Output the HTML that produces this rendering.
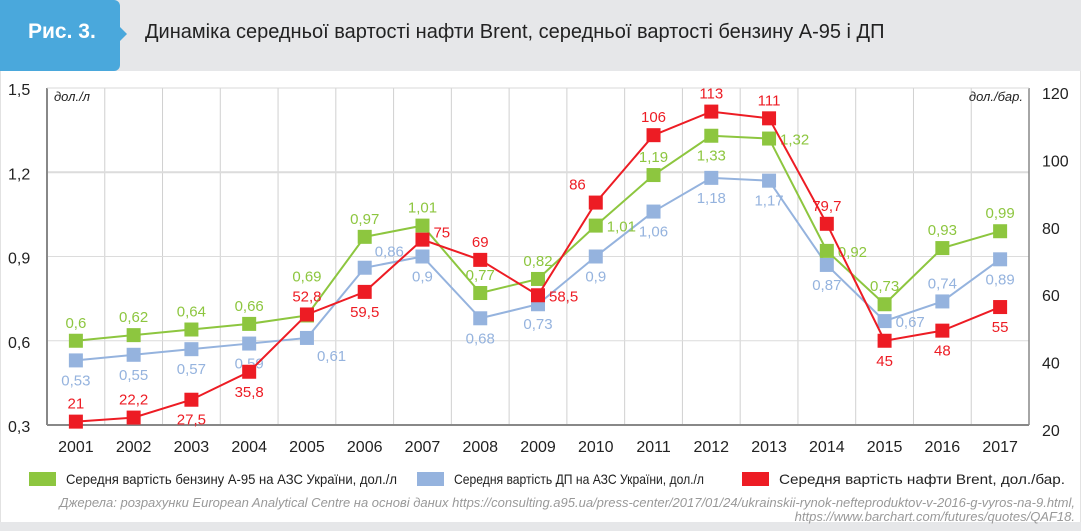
<!DOCTYPE html>
<html><head><meta charset="utf-8">
<style>
html,body{margin:0;padding:0;background:#fff;}
body{width:1081px;height:531px;position:relative;overflow:hidden;font-family:"Liberation Sans","DejaVu Sans",sans-serif;}
#hdr{position:absolute;left:0;top:0;width:1081px;height:71px;background:#e6e7e9;}
#tab{position:absolute;left:0;top:0;width:120px;height:71px;background:#4aa8dc;border-radius:0 6px 6px 0;}
#tab:after{content:"";position:absolute;right:-7px;top:27px;border-left:7px solid #4aa8dc;border-top:7px solid transparent;border-bottom:7px solid transparent;}
#tabtxt{position:absolute;left:28px;top:20px;color:#fff;font-weight:bold;font-size:21px;}
#title{position:absolute;left:145px;top:21px;font-size:20px;color:#222;}
#frame{position:absolute;left:0;top:71px;width:1079px;height:451px;border-left:1px solid #e2e2e2;border-right:1px solid #e2e2e2;}
#foot{position:absolute;left:0;top:522px;width:1081px;height:9px;background:#e6e7e9;}
svg{position:absolute;left:0;top:0;}
</style></head><body>
<div id="hdr"></div>
<div id="tab"><span id="tabtxt">Рис. 3.</span></div>
<div id="title">Динаміка середньої вартості нафти Brent, середньої вартості бензину А-95 і ДП</div>
<div id="frame"></div>
<div id="foot"></div>
<svg id="chart" width="1081" height="531"></svg>
<script>
const years=["2001","2002","2003","2004","2005","2006","2007","2008","2009","2010","2011","2012","2013","2014","2015","2016","2017"];
const a95=[0.6,0.62,0.64,0.66,0.69,0.97,1.01,0.77,0.82,1.01,1.19,1.33,1.32,0.92,0.73,0.93,0.99];
const dp=[0.53,0.55,0.57,0.59,0.61,0.86,0.9,0.68,0.73,0.9,1.06,1.18,1.17,0.87,0.67,0.74,0.89];
const brent=[21,22.2,27.5,35.8,52.8,59.5,75,69,58.5,86,106,113,111,79.7,45,48,55];
const leftTicks=[0.3,0.6,0.9,1.2,1.5];
const rightTicks=[20,40,60,80,100,120];
const a95Place=["t","t","t","t","tt","t","t","t","t","r","t","b","r","r","t","t","t"];
const dpPlace=["b","b","b","b","br","tr","b","b","b","b","b","b","b","b","r","t","b"];
const brentPlace=["t","t","b","b","t","b","r","t","r","tl","t","t","t","t","b","b","b"];

const NS="http://www.w3.org/2000/svg";
const svg=document.getElementById('chart');
const X0=47,X1=1029,Y0=88,Y1=425;
const step=(X1-X0)/years.length;
function xs(i){return X0+step*(i+0.5);}
function yl(v){return Y1-(v-0.3)/(1.5-0.3)*(Y1-Y0);}
function yr(v){return Y1-(v-20)/(120-20)*(Y1-Y0);}
function el(t,a){const e=document.createElementNS(NS,t);for(const k in a)e.setAttribute(k,a[k]);svg.appendChild(e);return e;}
function fmt(v){return String(v).replace('.',',');}

for(let i=1;i<years.length;i++){
  const g=el('line',{x1:X0+step*i,x2:X0+step*i,y1:Y0,y2:Y1,stroke:'#d0d0d0','stroke-width':1});
  
  
}
leftTicks.forEach(v=>{
  const y=yl(v);
  const g=el('line',{x1:X0,x2:X1,y1:y,y2:y,stroke:'#dcdcdc','stroke-width':v==1.2?2:1});
  
  
  const t=el('text',{x:8,y:y+7,'font-size':16,fill:'#222'});t.textContent=fmt(v);
  
  
});
rightTicks.forEach(v=>{
  const t=el('text',{x:1042,y:yr(v)+11,'font-size':16,fill:'#222'});t.textContent=v;
  
  
});
let ax=el('line',{x1:X0,x2:X0,y1:Y0,y2:Y1,stroke:'#888','stroke-width':2});


ax=el('line',{x1:X1,x2:X1,y1:Y0,y2:Y1,stroke:'#888','stroke-width':1.5});


ax=el('line',{x1:X0,x2:X1,y1:Y1,y2:Y1,stroke:'#888','stroke-width':2});


ax=el('line',{x1:X0,x2:X1,y1:Y0,y2:Y0,stroke:'#d8d8d8','stroke-width':1});


years.forEach((yv,i)=>{
  const t=el('text',{x:xs(i),y:452,'font-size':16,fill:'#222','text-anchor':'middle'});t.textContent=yv;
  
  
});
let u=el('text',{x:54,y:101,'font-size':13,'font-style':'italic',fill:'#222'});u.textContent='дол./л';


u=el('text',{x:1023,y:101,'font-size':13,'font-style':'italic',fill:'#222','text-anchor':'end'});u.textContent='дол./бар.';



function series(vals,place,yf,color,name,labelFmt){
  const pts=vals.map((v,i)=>xs(i)+','+yf(v)).join(' ');
  const pl=el('polyline',{points:pts,fill:'none',stroke:color,'stroke-width':2});
  
  
  vals.forEach((v,i)=>{
    const x=xs(i),y=yf(v);
    const r=el('rect',{x:x-7,y:y-7,width:14,height:14,fill:color});
    
    
    let lx=x,ly=y,anc='middle';
    const p=place[i];
    if(p=='t'){ly=y-13;}
    else if(p=='tt'){ly=y-34;}
    else if(p=='b'){ly=y+25;}
    else if(p=='r'){lx=x+11;ly=y+6;anc='start';}
    else if(p=='br'){lx=x+10;ly=y+23;anc='start';}
    else if(p=='tr'){lx=x+10;ly=y-11;anc='start';}
    else if(p=='tl'){lx=x-10;ly=y-13;anc='end';}
    if(p=='r'&&name=='brent'&&i==6){ly=y-2;}
    const t=el('text',{x:lx,y:ly,'font-size':15,fill:color,'text-anchor':anc});
    t.textContent=labelFmt(v);
    
    
  });
}
series(dp,dpPlace,yl,'#95b3de','dp',fmt);
series(a95,a95Place,yl,'#8dc63f','a95',fmt);
series(brent,brentPlace,yr,'#ed1c24','brent',fmt);

const legItems=[["#8dc63f","Середня вартість бензину А-95 на АЗС України, дол./л",29,331],["#95b3de","Середня вартість ДП на АЗС України, дол./л",417,250],["#ed1c24","Середня вартість нафти Brent, дол./бар.",742,286]];
legItems.forEach(li=>{
  const r=el('rect',{x:li[2],y:472,width:27,height:14,fill:li[0]});
  
  
  const t=el('text',{x:li[2]+37,y:484,'font-size':14,fill:'#222',textLength:li[3],lengthAdjust:'spacingAndGlyphs'});t.textContent=li[1];
  
  
});
let s=el('text',{x:1075,y:507,'font-size':13,'font-style':'italic',fill:'#999','text-anchor':'end'});
s.textContent='Джерела: розрахунки European Analytical Centre на основі даних https://consulting.a95.ua/press-center/2017/01/24/ukrainskii-rynok-nefteproduktov-v-2016-g-vyros-na-9.html,';


s=el('text',{x:1075,y:521,'font-size':13,'font-style':'italic',fill:'#999','text-anchor':'end'});
s.textContent='https://www.barchart.com/futures/quotes/QAF18.';


</script>
</body></html>
